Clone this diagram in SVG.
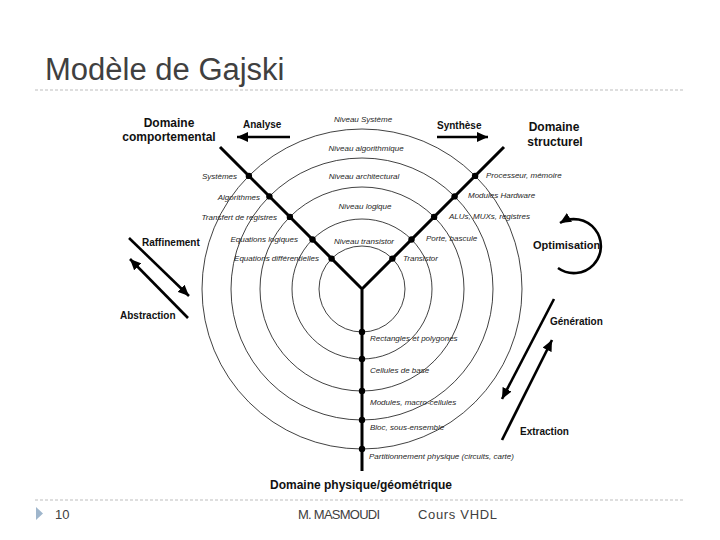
<svg xmlns="http://www.w3.org/2000/svg" width="720" height="540" viewBox="0 0 720 540">
<style>
.t{font-family:"Liberation Sans",Arial,sans-serif}
.b{font-family:"Liberation Sans",Arial,sans-serif;font-weight:bold;fill:#111}
.s{font-family:"Liberation Sans",Arial,sans-serif;font-style:italic;font-size:8px;fill:#262626}
.ring{fill:none;stroke:#111;stroke-width:0.8}
.axis{stroke:#000;stroke-width:3;fill:none;stroke-linecap:butt}
.arr{stroke:#000;stroke-width:2.6;fill:none;marker-end:url(#ah)}
.dash{stroke:#bdbdbd;stroke-width:1;stroke-dasharray:3 2}
</style>
<defs>
<marker id="ah" markerUnits="userSpaceOnUse" markerWidth="12" markerHeight="10" refX="11" refY="5" orient="auto">
<path d="M0,0 L11,5 L0,10 z" fill="#000"/>
</marker>
</defs>
<rect width="720" height="540" fill="#fff"/>
<g id="header">
<text class="t" x="45" y="80" font-size="31" fill="#404040">Modèle de Gajski</text>
<line class="dash" x1="35" y1="90" x2="685" y2="90"/>
</g>
<g id="rings">
<circle class="ring" cx="362" cy="289" r="43"/>
<circle class="ring" cx="362" cy="289" r="70"/>
<circle class="ring" cx="362" cy="289" r="102"/>
<circle class="ring" cx="362" cy="289" r="131"/>
<circle class="ring" cx="362" cy="289" r="160"/>
</g>
<g id="axes">
<path class="axis" d="M220,147 L362,289 L504,147 M362,289 L362,471"/>
<g fill="#000">
<circle cx="331.6" cy="258.6" r="3.2"/><circle cx="312.5" cy="239.5" r="3.2"/><circle cx="289.9" cy="216.9" r="3.2"/><circle cx="269.4" cy="196.4" r="3.2"/><circle cx="248.9" cy="175.9" r="3.2"/>
<circle cx="392.4" cy="258.6" r="3.2"/><circle cx="411.5" cy="239.5" r="3.2"/><circle cx="434.1" cy="216.9" r="3.2"/><circle cx="454.6" cy="196.4" r="3.2"/><circle cx="475.1" cy="175.9" r="3.2"/>
<circle cx="362" cy="332" r="3.2"/><circle cx="362" cy="359" r="3.2"/><circle cx="362" cy="391" r="3.2"/><circle cx="362" cy="420" r="3.2"/><circle cx="362" cy="449" r="3.2"/>
</g>
</g>
<g id="levels" text-anchor="middle">
<text class="s" x="363" y="121.5">Niveau Système</text>
<text class="s" x="366" y="151">Niveau algorithmique</text>
<text class="s" x="364" y="179">Niveau architectural</text>
<text class="s" x="365" y="209">Niveau logique</text>
<text class="s" x="364" y="243.5">Niveau transistor</text>
</g>
<g id="behavioural" text-anchor="end">
<text class="s" x="237" y="179">Systèmes</text>
<text class="s" x="260" y="199.5">Algorithmes</text>
<text class="s" x="277" y="219.5">Transfert de registres</text>
<text class="s" x="298" y="241.5">Equations logiques</text>
<text class="s" x="319" y="261">Equations différentielles</text>
</g>
<g id="structural">
<text class="s" x="486" y="178">Processeur, mémoire</text>
<text class="s" x="468" y="198">Modules Hardware</text>
<text class="s" x="449" y="219">ALUs, MUXs, registres</text>
<text class="s" x="426" y="241">Porte, bascule</text>
<text class="s" x="403" y="261">Transistor</text>
</g>
<g id="physical">
<text class="s" x="370" y="341">Rectangles et polygones</text>
<text class="s" x="370" y="373">Cellules de base</text>
<text class="s" x="370" y="404.5">Modules, macro-cellules</text>
<text class="s" x="370" y="429.5">Bloc, sous-ensemble</text>
<text class="s" x="369" y="459">Partitionnement physique (circuits, carte)</text>
</g>
<g id="domains">
<text class="b" font-size="12" x="169" y="127" text-anchor="middle">Domaine</text>
<text class="b" font-size="12" x="169" y="140.5" text-anchor="middle">comportemental</text>
<text class="b" font-size="12" x="554" y="131" text-anchor="middle">Domaine</text>
<text class="b" font-size="12" x="555" y="145.5" text-anchor="middle">structurel</text>
<text class="b" font-size="12" x="270" y="489">Domaine physique/géométrique</text>
</g>
<g id="connectors">
<path class="arr" d="M290,137 L237,137"/>
<path class="arr" d="M437,137 L488,137"/>
<path class="arr" d="M129,238 L189,296"/>
<path class="arr" d="M188,318 L130,259"/>
<path class="arr" d="M554,299 L502,399"/>
<path class="arr" d="M502,440 L552,340"/>
<path class="arr" d="M558,268 A27,27 0 1 0 560,223"/>
</g>
<g id="process-labels">
<text class="b" font-size="10" x="243" y="128">Analyse</text>
<text class="b" font-size="10" x="437" y="129">Synthèse</text>
<text class="b" font-size="10" x="142" y="245.5">Raffinement</text>
<text class="b" font-size="10" x="120" y="319">Abstraction</text>
<text class="b" font-size="11" x="533" y="249">Optimisation</text>
<text class="b" font-size="10" x="550" y="324.5">Génération</text>
<text class="b" font-size="10" x="520" y="435">Extraction</text>
</g>
<g id="footer">
<line class="dash" x1="35" y1="500" x2="685" y2="500"/>
<path d="M36,507 L43,513.5 L36,520 z" fill="#9fb6cc"/>
<text class="t" x="55" y="519" font-size="13" fill="#404040">10</text>
<text class="t" x="298" y="519" font-size="13" fill="#404040" textLength="82">M. MASMOUDI</text>
<text class="t" x="418" y="519" font-size="13" fill="#404040" textLength="79">Cours VHDL</text>
</g>
</svg>
